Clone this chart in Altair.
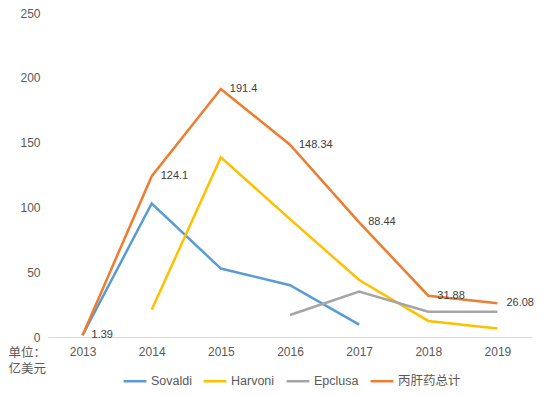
import altair as alt
import pandas as pd

years = ["2013", "2014", "2015", "2016", "2017", "2018", "2019"]
sovaldi_years = ["2013", "2014", "2015", "2016", "2017"]
sovaldi = [1.39, 103.0, 52.8, 40.0, 9.5]
harvoni_years = ["2014", "2015", "2016", "2017", "2018", "2019"]
harvoni = [21.0, 138.6, 91.0, 44.0, 12.4, 6.5]
epclusa_years = ["2016", "2017", "2018", "2019"]
epclusa = [17.0, 35.0, 19.5, 19.5]
total = [1.39, 124.1, 191.4, 148.34, 88.44, 31.88, 26.08]
series_names = ["Sovaldi", "Harvoni", "Epclusa", "丙肝药总计"]
colors = ["#5B9BD5", "#FFC000", "#A5A5A5", "#ED7D31"]

rows = []
for name, ys, vs in [(series_names[0], sovaldi_years, sovaldi),
                     (series_names[1], harvoni_years, harvoni),
                     (series_names[2], epclusa_years, epclusa),
                     (series_names[3], years, total)]:
    for y, v in zip(ys, vs):
        rows.append({"year": y, "value": v, "series": name})
df = pd.DataFrame(rows)
tot_df = pd.DataFrame({"year": years, "value": total, "label": [f"{v:g}" for v in total]})

FONT = "Liberation Sans, Noto Sans CJK SC"
GRAY = "#595959"

xscale = alt.Scale(type="point", padding=0.5, domain=years)
x = alt.X("year:O", scale=xscale,
          axis=alt.Axis(title=None, labelAngle=0, ticks=False, domainColor="#D9D9D9",
                        labelColor=GRAY, labelFontSize=12, labelFont=FONT, labelPadding=9,
                        grid=False))
y = alt.Y("value:Q", scale=alt.Scale(domain=[0, 250], nice=False),
          axis=alt.Axis(values=[0, 50, 100, 150, 200, 250], grid=False, domain=False, ticks=False,
                        labelColor=GRAY, labelFontSize=12, labelFont=FONT, labelPadding=8,
                        title=["单位：", "亿美元"], titleAngle=0, titleX=-40, titleY=333,
                        titleAlign="left", titleBaseline="top", titleFont=FONT,
                        titleFontSize=12.5, titleFontWeight="normal", titleColor=GRAY,
                        titleLineHeight=16))

lines = alt.Chart(df).mark_line(strokeWidth=2.5).encode(
    x=x, y=y,
    color=alt.Color("series:N", scale=alt.Scale(domain=series_names, range=colors),
                    sort=series_names,
                    legend=alt.Legend(title=None, orient="none", legendX=74, legendY=355,
                                      direction="horizontal", symbolType="stroke",
                                      symbolSize=520, symbolStrokeWidth=2.5,
                                      labelFont=FONT, labelFontSize=12.5,
                                      labelColor=GRAY, columnPadding=6, labelOffset=3)),
    detail="series:N",
)

labels = alt.Chart(tot_df).mark_text(align="left", baseline="middle", dx=9, dy=0,
                                     font=FONT, fontSize=11, color="#404040").encode(
    x=alt.X("year:O", scale=xscale),
    y=alt.Y("value:Q"),
    text="label:N",
)

chart = alt.layer(lines, labels).properties(
    width=484, height=324,
    autosize=alt.AutoSizeParams(type="none"),
    padding={"left": 40, "top": 5, "right": 6, "bottom": 51},
).configure(background="white").configure_view(stroke=None)

chart.save("out.html", embed_options={"renderer": "svg", "actions": False})
